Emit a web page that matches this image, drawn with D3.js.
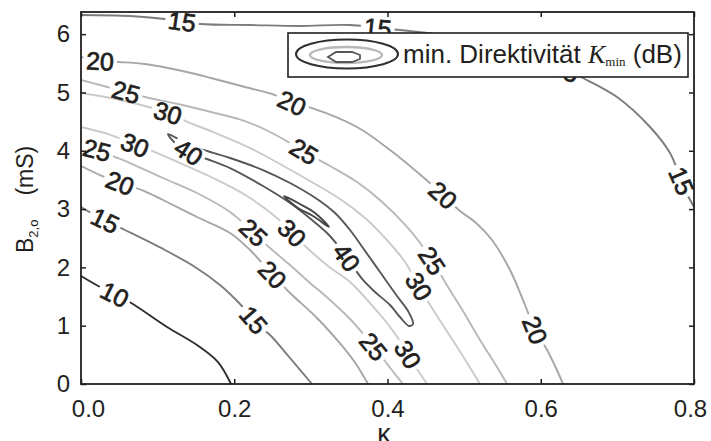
<!DOCTYPE html>
<html>
<head>
<meta charset="utf-8">
<script src="https://cdn.jsdelivr.net/npm/d3@7"></script>
<style>
  html, body { margin: 0; padding: 0; background: #fff; }
  svg { display: block; }
  text { font-family: "Liberation Sans", Arial, Helvetica, sans-serif; fill: #231f20; white-space: pre; }
</style>
</head>
<body>
<svg id="chart" width="711" height="441"></svg>
<script>
// axes
const xDomain = [0, 0.8];
const yDomain = [0, 6.38];
const xTicks = [0, 0.2, 0.4, 0.6, 0.8];
const yTicks = [0, 1, 2, 3, 4, 5, 6];

// contour lines, [kappa, B2o in mS]
const c10 = [[0, 1.852], [0.0248, 1.664], [0.0613, 1.423], [0.1122, 0.978], [0.1514, 0.669], [0.1788, 0.377], [0.1958, 0]];
const c15a = [[0, 3.036], [0.0248, 2.847], [0.0574, 2.641], [0.1096, 2.298], [0.1488, 2.007], [0.1814, 1.698], [0.2075, 1.372], [0.2310, 1.012], [0.2467, 0.840], [0.2728, 0.446], [0.3015, 0]];
const c15b = [[0, 6.328], [0.0639, 6.311], [0.1096, 6.260], [0.1553, 6.174], [0.2206, 6.157], [0.2858, 6.140], [0.3511, 6.157], [0.4163, 6.071], [0.4816, 5.968], [0.5468, 5.797], [0.5990, 5.591], [0.6551, 5.248], [0.6995, 4.922], [0.7426, 4.408], [0.7687, 3.962], [0.7831, 3.499], [0.7922, 3.224], [0.8, 3.036]];
const c20a = [[0, 3.739], [0.0248, 3.584], [0.0509, 3.447], [0.0796, 3.327], [0.1070, 3.156], [0.1514, 2.864], [0.1945, 2.590], [0.2206, 2.298], [0.2467, 1.921], [0.2728, 1.561], [0.3080, 1.132], [0.3419, 0.635], [0.3589, 0.343], [0.3746, 0]];
const c20b = [[0, 5.608], [0.0248, 5.539], [0.0483, 5.522], [0.0835, 5.488], [0.1266, 5.385], [0.1697, 5.248], [0.2140, 5.094], [0.2532, 4.956], [0.2754, 4.819], [0.3015, 4.733], [0.3602, 4.408], [0.4033, 4.013], [0.4463, 3.550], [0.4724, 3.241], [0.4946, 2.967], [0.5142, 2.778], [0.5364, 2.470], [0.5599, 1.955], [0.5795, 1.355], [0.5925, 0.926], [0.6069, 0.617], [0.6199, 0.274], [0.6291, 0]];
const c25a = [[0, 4.082], [0.0209, 4.013], [0.0444, 3.893], [0.0639, 3.790], [0.1070, 3.533], [0.1514, 3.276], [0.1945, 2.950], [0.2245, 2.607], [0.2467, 2.332], [0.2728, 2.041], [0.2989, 1.732], [0.3250, 1.441], [0.3511, 1.115], [0.3707, 0.823], [0.3876, 0.549], [0.4046, 0.257], [0.4202, 0]];
const c25b = [[0, 5.214], [0.0248, 5.128], [0.0587, 5.008], [0.0835, 4.922], [0.1266, 4.802], [0.1697, 4.665], [0.2140, 4.510], [0.2467, 4.322], [0.2728, 4.133], [0.2989, 3.927], [0.3250, 3.739], [0.3602, 3.464], [0.3902, 3.156], [0.4255, 2.693], [0.4463, 2.350], [0.4620, 2.041], [0.4790, 1.664], [0.4985, 1.252], [0.5207, 0.755], [0.5429, 0.292], [0.5560, 0]];
const c30a = [[0, 4.408], [0.0392, 4.270], [0.0705, 4.099], [0.0901, 4.013], [0.1292, 3.790], [0.1723, 3.533], [0.2166, 3.224], [0.2558, 2.847], [0.2754, 2.590], [0.2923, 2.367], [0.3224, 2.024], [0.3511, 1.749], [0.3772, 1.389], [0.3994, 1.046], [0.4163, 0.737], [0.4294, 0.446], [0.4411, 0.206], [0.4516, 0]];
const c30b = [[0, 4.991], [0.0392, 4.905], [0.0835, 4.768], [0.1135, 4.648], [0.1396, 4.493], [0.1723, 4.322], [0.2206, 4.047], [0.2597, 3.773], [0.2897, 3.550], [0.3380, 3.173], [0.3707, 2.847], [0.3968, 2.504], [0.4229, 2.092], [0.4398, 1.698], [0.4581, 1.303], [0.4790, 0.875], [0.4999, 0.446], [0.5207, 0]];
const c40 = [[0.1135, 4.288], [0.1292, 4.185], [0.1423, 4.082], [0.1644, 3.996], [0.1945, 3.876], [0.2375, 3.670], [0.2728, 3.447], [0.3080, 3.173], [0.3315, 2.933], [0.3511, 2.641], [0.3680, 2.332], [0.3902, 1.921], [0.4124, 1.509], [0.4268, 1.252], [0.4333, 1.029], [0.4281, 0.995], [0.4163, 1.149], [0.4033, 1.355], [0.3837, 1.578], [0.3680, 1.784], [0.3537, 2.041], [0.3380, 2.332], [0.3211, 2.590], [0.3015, 2.813], [0.2728, 3.104], [0.2375, 3.396], [0.1945, 3.704], [0.1644, 3.859], [0.1423, 3.962], [0.1227, 4.133]];
const c50 = [[0.2649, 3.224], [0.2858, 3.087], [0.3054, 2.933], [0.3237, 2.693], [0.3028, 2.881], [0.2832, 3.018]];

// where the inline level labels sit
const lab10 = [[0.0418, 1.475]];
const lab15a = [[0.0287, 2.727], [0.2219, 1.063]];
const lab15b = [[0.1318, 6.208], [0.3876, 6.157], [0.6317, 5.385], [0.7804, 3.464]];
const lab20a = [[0.0509, 3.447], [0.2467, 1.835]];
const lab20b = [[0.0248, 5.522], [0.2754, 4.819], [0.4724, 3.241], [0.5925, 0.926]];
const lab25a = [[0.0209, 4.013], [0.2245, 2.590], [0.3811, 0.635]];
const lab25b = [[0.0587, 5.008], [0.2897, 3.962], [0.4555, 2.092]];
const lab30a = [[0.0705, 4.099], [0.2754, 2.590], [0.4255, 0.497]];
const lab30b = [[0.1135, 4.648], [0.4398, 1.664]];
const lab40 = [[0.1423, 4.013], [0.3472, 2.178]];

const levelColors = { 10: '#2e2e2e', 15: '#7c7c7c', 20: '#a6a6a6', 25: '#b8b8b8', 30: '#cacaca', 40: '#575757', 50: '#474747' };

const contours = [
    { level: 10, pts: c10, labels: lab10 },
    { level: 15, pts: c15a, labels: lab15a },
    { level: 15, pts: c15b, labels: lab15b },
    { level: 20, pts: c20a, labels: lab20a },
    { level: 20, pts: c20b, labels: lab20b },
    { level: 25, pts: c25a, labels: lab25a },
    { level: 25, pts: c25b, labels: lab25b },
    { level: 30, pts: c30a, labels: lab30a },
    { level: 30, pts: c30b, labels: lab30b },
    { level: 40, pts: c40, labels: lab40, closed: true },
    { level: 50, pts: c50, labels: [], closed: true }
];

const width = 711, height = 441;
const plot = { left: 81, right: 694, top: 12, bottom: 384 };
const ink = '#231f20';

const svg = d3.select('#chart');
const x = d3.scaleLinear().domain(xDomain).range([plot.left, plot.right]);
const y = d3.scaleLinear().domain(yDomain).range([plot.bottom, plot.top]);

const openLine = d3.line().x(d => x(d[0])).y(d => y(d[1])).curve(d3.curveCatmullRom.alpha(0.5));
const loopLine = d3.line().x(d => x(d[0])).y(d => y(d[1])).curve(d3.curveCatmullRomClosed.alpha(0.5));

// snap a label to the nearest segment and take its direction
function placeOnLine(pts, closed, p) {
    const px = pts.map(d => [x(d[0]), y(d[1])]);
    const tx = x(p[0]), ty = y(p[1]);
    const n = closed ? px.length : px.length - 1;
    let best = null;
    for (let i = 0; i < n; i++) {
        const a = px[i], b = px[(i + 1) % px.length];
        const dx = b[0] - a[0], dy = b[1] - a[1];
        let t = ((tx - a[0]) * dx + (ty - a[1]) * dy) / (dx * dx + dy * dy);
        t = Math.max(0, Math.min(1, t));
        const qx = a[0] + t * dx, qy = a[1] + t * dy;
        const dist = Math.hypot(tx - qx, ty - qy);
        if (!best || dist < best.dist) {
            let angle = Math.atan2(dy, dx) * 180 / Math.PI;
            if (angle > 90) angle -= 180;
            if (angle < -90) angle += 180;
            best = { x: qx, y: qy, angle, dist };
        }
    }
    return best;
}

const defs = svg.append('defs');
const lineLayer = svg.append('g');
const labelLayer = svg.append('g');

contours.forEach((c, i) => {
    const mask = defs.append('mask')
        .attr('id', `gap-${i}`)
        .attr('maskUnits', 'userSpaceOnUse')
        .attr('x', 0).attr('y', 0)
        .attr('width', width).attr('height', height);
    mask.append('rect').attr('width', width).attr('height', height).attr('fill', '#fff');

    c.labels.forEach(p => {
        const s = placeOnLine(c.pts, c.closed, p);
        const tf = `translate(${s.x},${s.y}) rotate(${s.angle})`;
        const t = labelLayer.append('text')
            .attr('transform', tf)
            .attr('text-anchor', 'middle')
            .attr('dy', '0.36em')
            .attr('font-size', 25)
            .attr('stroke', ink)
            .attr('stroke-width', 0.7)
            .text(c.level);
        const w = t.node().getComputedTextLength();
        mask.append('rect')
            .attr('transform', tf)
            .attr('x', -w / 2 - 3).attr('y', -10)
            .attr('width', w + 6).attr('height', 20)
            .attr('fill', '#000');
    });

    lineLayer.append('path')
        .datum(c.pts)
        .attr('d', c.closed ? loopLine : openLine)
        .attr('fill', 'none')
        .attr('stroke', levelColors[c.level])
        .attr('stroke-width', 1.9)
        .attr('stroke-linejoin', 'round')
        .attr('mask', `url(#gap-${i})`);
});

// legend
const legend = svg.append('g');
legend.append('rect')
    .attr('x', 288).attr('y', 33).attr('width', 400).attr('height', 44)
    .attr('fill', '#fff').attr('stroke', ink).attr('stroke-width', 1.6);
legend.append('ellipse')
    .attr('cx', 347).attr('cy', 54).attr('rx', 51).attr('ry', 14.5)
    .attr('fill', 'none').attr('stroke', '#2e2e2e').attr('stroke-width', 2);
legend.append('ellipse')
    .attr('cx', 346).attr('cy', 55).attr('rx', 36).attr('ry', 8)
    .attr('fill', 'none').attr('stroke', '#b8b8b8').attr('stroke-width', 2.4);
legend.append('polygon')
    .attr('points', '328,57 336,52 352,52 360,55 360,59 352,62 336,62')
    .attr('fill', 'none').attr('stroke', '#575757').attr('stroke-width', 1.8);
const legendText = legend.append('text')
    .attr('x', 403).attr('y', 63).attr('font-size', 26);
legendText.append('tspan').text('min. Direktivität ');
legendText.append('tspan')
    .attr('font-family', '"Liberation Serif", "Times New Roman", serif')
    .attr('font-style', 'italic').text('K');
legendText.append('tspan')
    .attr('font-family', '"Liberation Serif", "Times New Roman", serif')
    .attr('font-size', 13).attr('dy', 3).text('min');
legendText.append('tspan').attr('dy', -3).text(' (dB)');

// axes, ticks pointing inward on all four sides
const axisLayer = svg.append('g');
const xAxisG = axisLayer.append('g')
    .attr('transform', `translate(0,${plot.bottom})`)
    .call(d3.axisBottom(x).tickValues(xTicks).tickSizeInner(-5).tickSizeOuter(0).tickPadding(16).tickFormat(d3.format('.1f')));
axisLayer.append('g')
    .attr('transform', `translate(0,${plot.top})`)
    .call(d3.axisTop(x).tickValues(xTicks).tickSizeInner(-5).tickSizeOuter(0).tickFormat(''));
axisLayer.append('g')
    .attr('transform', `translate(${plot.left},0)`)
    .call(d3.axisLeft(y).tickValues(yTicks).tickSizeInner(-5).tickSizeOuter(0).tickPadding(11).tickFormat(d3.format('d')));
axisLayer.append('g')
    .attr('transform', `translate(${plot.right},0)`)
    .call(d3.axisRight(y).tickValues(yTicks).tickSizeInner(-5).tickSizeOuter(0).tickFormat(''));

axisLayer.selectAll('.domain').remove();
axisLayer.selectAll('.tick line').attr('stroke', ink).attr('stroke-width', 1.5);
axisLayer.selectAll('.tick text')
    .attr('font-size', 24)
    .attr('font-family', '"Liberation Sans", Arial, sans-serif')
    .attr('fill', ink);
// the end labels sit a little inside the frame in the original
xAxisG.selectAll('.tick text').attr('dx', d => d === xDomain[0] ? 7 : d === xDomain[1] ? -4 : 0);

axisLayer.append('rect')
    .attr('x', plot.left).attr('y', plot.top)
    .attr('width', plot.right - plot.left).attr('height', plot.bottom - plot.top)
    .attr('fill', 'none').attr('stroke', ink).attr('stroke-width', 1.8);

// axis titles
svg.append('text')
    .attr('x', 384).attr('y', 443)
    .attr('text-anchor', 'middle')
    .attr('font-size', 27)
    .attr('font-family', '"Liberation Serif", "Times New Roman", serif')
    .text('κ');

const yTitle = svg.append('text')
    .attr('transform', 'translate(33,253) rotate(-90)')
    .attr('font-size', 23);
yTitle.append('tspan').text('B');
yTitle.append('tspan').attr('font-size', 13).attr('dy', 5).text('2,o');
yTitle.append('tspan').attr('dy', -5).attr('dx', 24).text('(mS)');
</script>
</body>
</html>
